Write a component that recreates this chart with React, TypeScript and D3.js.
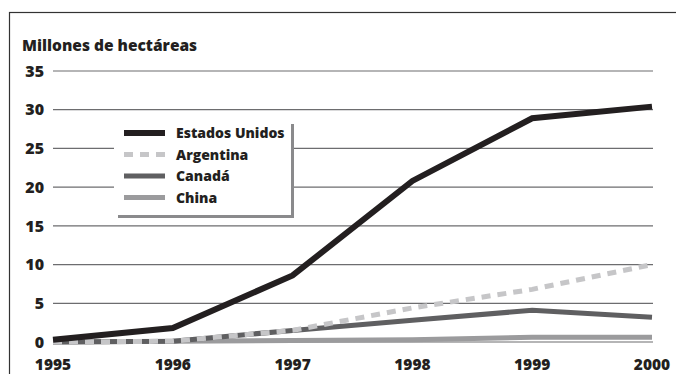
import React from "react";
import * as d3 from "d3";

const years = ["1995", "1996", "1997", "1998", "1999", "2000"];
const yTicks = [0, 5, 10, 15, 20, 25, 30, 35];

const estadosUnidos = [0.3, 1.8, 8.6, 20.8, 28.9, 30.4];
const argentina = [0, 0.1, 1.5, 4.4, 6.8, 10.0];
const canada = [0, 0.1, 1.5, 2.8, 4.1, 3.2];
const china = [0, 0.1, 0.2, 0.3, 0.6, 0.6];

const series = [
  { name: "China", values: china, color: "#9b9b9d", width: 5, dash: null },
  { name: "Canadá", values: canada, color: "#5f5f61", width: 5, dash: null },
  { name: "Argentina", values: argentina, color: "#c6c6c8", width: 5, dash: "9,7" },
  { name: "Estados Unidos", values: estadosUnidos, color: "#231f20", width: 6, dash: null },
];
const legendOrder = ["Estados Unidos", "Argentina", "Canadá", "China"];

const W = 676;
const H = 374;
const font = "'Open Sans', 'Liberation Sans', sans-serif";
const weight = 800;

export default function App() {
  const x = d3.scalePoint<string>().domain(years).range([53, 652]);
  const y = d3.scaleLinear().domain([0, 35]).range([342, 71]);

  const line = d3
    .line<number>()
    .x((_, i) => x(years[i]) as number)
    .y((d) => y(d));

  return (
    <div style={{ position: "absolute", left: 0, top: 0 }}>
      <svg width={W} height={H} style={{ display: "block", background: "#fff" }}>
        {/* frame */}
        <rect x={9.5} y={12.5} width={700} height={400} fill="none" stroke="#333" strokeWidth={1.2} />

        <text x={22} y={51} fontFamily={font} fontWeight={weight} fontSize={15.5} fill="#231f20">
          Millones de hectáreas
        </text>

        {/* grid */}
        {yTicks.map((t) => (
          <g key={t}>
            <line x1={53} x2={653} y1={y(t)} y2={y(t)} stroke="#6d6d6f" strokeWidth={1.2} />
            <text
              x={44}
              y={y(t)}
              dy="0.36em"
              textAnchor="end"
              fontFamily={font}
              fontWeight={weight}
              fontSize={16}
              fill="#231f20"
            >
              {t}
            </text>
          </g>
        ))}

        {years.map((yr) => (
          <text
            key={yr}
            x={x(yr)}
            y={369.5}
            textAnchor="middle"
            fontFamily={font}
            fontWeight={weight}
            fontSize={15.5}
            fill="#231f20"
          >
            {yr}
          </text>
        ))}

        {/* lines */}
        {series.map((s) => (
          <path
            key={s.name}
            d={line(s.values) || ""}
            fill="none"
            stroke={s.color}
            strokeWidth={s.width}
            strokeDasharray={s.dash || undefined}
            strokeLinejoin="miter"
          />
        ))}

        {/* legend */}
        <g>
          <rect x={118} y={124} width={176} height={94} fill="#8a8a8c" />
          <rect x={114} y={120} width={177} height={95} fill="#fff" />
          {legendOrder.map((name, i) => {
            const s = series.find((d) => d.name === name)!;
            const ly = 133 + i * 21.5;
            return (
              <g key={name}>
                <line
                  x1={124}
                  x2={165}
                  y1={ly}
                  y2={ly}
                  stroke={s.color}
                  strokeWidth={s.width}
                  strokeDasharray={s.dash || undefined}
                />
                <text
                  x={176}
                  y={ly}
                  dy="0.36em"
                  fontFamily={font}
                  fontWeight={weight}
                  fontSize={14}
                  fill="#231f20"
                >
                  {name}
                </text>
              </g>
            );
          })}
        </g>
      </svg>
    </div>
  );
}
